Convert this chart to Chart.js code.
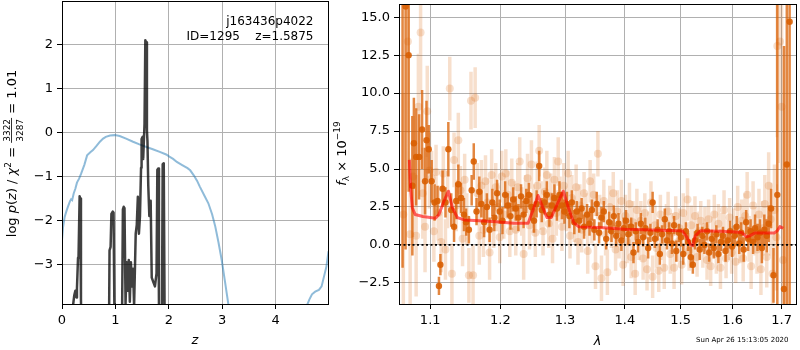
<!DOCTYPE html>
<html><head><meta charset="utf-8">
<script src="https://cdn.jsdelivr.net/npm/chart.js@4.4.0/dist/chart.umd.min.js"></script>
<style>
html,body{margin:0;padding:0;background:#fff;}
#wrap{position:relative;width:800px;height:350px;overflow:hidden;background:#fff;}
#b1{position:absolute;left:0;top:0;width:330px;height:350px;}
#b2{position:absolute;left:330px;top:0;width:470px;height:350px;}
</style></head><body>
<div id="wrap"><div id="b1"><canvas id="c1" width="330" height="350"></canvas></div><div id="b2"><canvas id="c2" width="470" height="350"></canvas></div></div>
<script>
// ---------- left panel: p(z) ----------
const zPrior = [0,0.02,0.05,0.08,0.11,0.15,0.17,0.19,0.22,0.25,0.28,0.32,0.36,0.42,0.47,0.53,0.58,0.65,0.71,0.77,0.82,0.9,0.99,1.08,1.2,1.33,1.45,1.58,1.7,1.83,1.95,2.01,2.08,2.15,2.25,2.35,2.40,2.47,2.53,2.58,2.66,2.74,2.81,2.87,2.93,2.99,3.05,3.12,3.3,3.8,4.3,4.59,4.63,4.68,4.74,4.81,4.86,4.9,4.95,4.99];
const logPrior = [-2.45,-2.15,-1.92,-1.8,-1.69,-1.56,-1.52,-1.54,-1.38,-1.28,-1.14,-1.05,-0.93,-0.73,-0.52,-0.45,-0.40,-0.3,-0.21,-0.14,-0.10,-0.07,-0.06,-0.08,-0.14,-0.21,-0.27,-0.33,-0.38,-0.44,-0.5,-0.55,-0.6,-0.67,-0.74,-0.81,-0.86,-0.98,-1.1,-1.23,-1.42,-1.61,-1.86,-2.14,-2.5,-2.9,-3.38,-3.95,-5.2,-8,-6.5,-3.92,-3.8,-3.68,-3.62,-3.58,-3.5,-3.3,-3.05,-2.7];
const zPdf = [0.18,0.21,0.23,0.25,0.27,0.28,0.30,0.31,0.33,0.34,0.355,0.37,0.86,0.89,0.91,0.925,0.95,0.965,0.98,0.99,1.10,1.14,1.155,1.17,1.19,1.21,1.23,1.25,1.27,1.29,1.31,1.33,1.35,1.38,1.40,1.42,1.44,1.46,1.48,1.49,1.51,1.52,1.545,1.56,1.575,1.59,1.60,1.615,1.635,1.66,1.68,1.71,1.74,1.77,1.785,1.80,1.815,1.83,1.87,1.885,1.905,1.92,1.94];
const logPdf = [-5,-3.9,-3.7,-3.6,-3.75,-3.55,-2.85,-2.8,-1.45,-1.5,-3.8,-5,-8,-2.68,-2.6,-1.85,-1.8,-1.82,-3.9,-5,-8,-1.75,-1.69,-1.72,-3.9,-2.95,-3.6,-2.9,-3.85,-2.95,-3.5,-3.1,-3.95,-2.3,-2.1,-1.46,-2.3,-1.9,-0.8,-0.15,-0.1,-0.6,0.2,2.1,2.05,0.05,-0.2,-1.2,-1.9,-1.55,-3.3,-3.4,-3.5,-3.2,-0.85,-0.82,-3.9,-5,-4.5,-0.72,-0.70,-3.9,-8];
const pdfTicksX = [0,1,2,3,4];
const pdfTicksY = [-3,-2,-1,0,1,2];

// ---------- right panel: spectrum ----------
const darkWave = [1.063,1.067,1.071,1.076,1.078,1.081,1.085,1.089,1.093,1.095,1.098,
1.102,1.106,1.110,1.112,1.114,1.117,1.121,1.125,1.129,1.133,1.136,1.139,1.143,1.147,1.150,1.154,1.158,1.161,1.165,1.169,1.172,1.176,1.180,1.184,1.188,1.191,1.195,1.199,1.203,1.207,1.211,1.215,1.219,1.223,1.227,1.231,1.235,1.239,1.243,1.247,1.251,1.255,1.259,1.263,1.267,1.271,1.275,1.279,1.283,1.287,1.291,1.295,1.299,
1.303,1.307,1.311,1.315,1.319,1.323,1.327,1.331,1.336,1.340,1.344,1.348,1.352,1.356,1.360,1.364,1.368,1.373,1.377,1.381,1.385,1.389,1.394,1.398,
1.402,1.406,1.411,1.415,1.419,1.423,1.428,1.432,1.436,1.441,1.445,1.449,1.453,1.458,1.462,1.466,1.471,1.475,1.479,1.484,1.488,1.492,1.497,
1.501,1.505,1.510,1.514,1.519,1.523,1.527,1.532,1.536,1.541,1.545,1.550,1.554,1.559,1.563,1.568,1.572,1.577,1.581,1.586,1.590,1.595,1.599,
1.604,1.608,1.613,1.617,1.622,1.627,1.631,1.636,1.641,1.645,1.650,1.655,1.659,1.664,1.669,1.673,1.678,1.683,1.691,1.705,1.711,1.717];
const darkFlux = [16.5,15.7,12.5,3.9,6.7,5.8,5.8,7.6,4.2,6.9,6.3,
4.2,2.8,2.9,-2.7,-1.3,3.7,2.8,6.3,2.3,1.2,2.9,4.0,3.1,2.0,1.5,1.0,3.6,5.5,2.2,3.5,2.7,1.5,2.5,1.0,2.8,1.8,3.4,2.2,1.6,3.3,2.6,1.9,3.0,2.4,1.8,3.2,2.0,2.9,3.3,2.5,1.6,2.7,5.2,2.3,2.8,3.3,2.0,2.6,3.1,2.4,3.3,2.6,2.2,
2.7,1.9,2.8,1.5,2.2,1.6,2.4,1.2,2.0,1.4,2.3,1.0,2.7,0.8,1.8,2.2,0.4,1.5,0.9,1.9,0.6,1.4,0.3,1.1,
1.6,0.7,1.2,-0.5,0.9,0.2,1.4,0.5,1.1,-0.2,0.8,2.8,0.4,1.0,-0.6,0.7,1.7,0.3,0.9,0.1,1.3,-0.4,0.8,
0.5,-0.6,0.9,0.2,-0.8,-1.3,0.3,0.8,-0.3,0.6,0.0,0.9,-0.5,0.4,-0.2,0.7,-0.6,0.2,0.6,-0.4,0.3,0.9,-0.1,
0.6,1.2,0.1,0.8,-0.3,1.5,0.4,0.9,0.2,1.1,0.5,0.8,-0.2,1.0,0.6,1.4,2.4,-2.0,3.3,-2.9,5.3,14.7];
const darkErr = [18,16,9,4.6,3.0,3.2,2.8,2.6,2.2,2.6,1.6,
1.4,1.2,1.0,0.6,0.7,1.2,1.0,1.8,1.1,1.0,1.2,1.3,1.0,1.1,0.9,0.9,1.0,1.2,0.9,1.0,0.9,1.0,0.9,0.8,0.9,0.9,0.9,0.8,0.9,0.9,0.8,0.9,0.8,0.8,0.9,0.8,0.9,0.8,0.8,0.9,0.8,0.9,1.0,0.8,0.8,0.9,0.8,0.8,0.9,0.8,0.9,0.9,0.8,
0.8,0.8,0.8,0.8,0.7,0.8,0.7,0.8,0.7,0.8,0.7,0.7,0.8,0.7,0.7,0.7,0.7,0.7,0.7,0.7,0.7,0.7,0.7,0.7,
0.7,0.7,0.6,0.7,0.6,0.7,0.7,0.6,0.7,0.7,0.6,0.7,0.6,0.7,0.7,0.6,0.7,0.6,0.6,0.7,0.6,0.7,0.6,
0.6,0.7,0.6,0.6,0.7,0.6,0.6,0.6,0.7,0.6,0.6,0.6,0.6,0.6,0.7,0.6,0.6,0.6,0.6,0.7,0.6,0.7,0.7,
0.7,0.7,0.7,0.7,0.8,0.8,0.8,0.8,0.8,0.9,0.9,0.9,1.0,1.0,1.1,1.2,1.3,1.8,15,16,20,20];

const lightWave = [1.064,1.070,1.073,1.077,1.081,1.084,1.087,1.090,1.093,1.096,1.099,
1.102,1.105,1.108,1.111,1.115,1.118,1.121,1.124,1.127,1.130,1.133,1.136,1.139,1.142,1.145,1.148,1.151,1.154,1.157,1.160,1.163,1.166,1.169,1.172,1.175,1.178,1.181,1.184,1.187,1.190,1.193,1.196,1.199,1.202,1.205,1.208,1.211,1.214,1.217,1.220,1.223,1.226,1.229,1.232,1.235,1.238,1.241,1.244,1.247,1.250,1.253,1.256,1.259,1.262,1.265,1.268,1.271,1.274,1.277,1.280,1.283,1.286,1.289,1.292,1.295,1.298,
1.302,1.305,1.308,1.311,1.315,1.318,1.321,1.324,1.327,1.331,1.334,1.337,1.341,1.344,1.347,1.350,1.354,1.357,1.360,1.364,1.367,1.370,1.374,1.377,1.380,1.384,1.387,1.390,1.394,1.397,
1.401,1.404,1.408,1.411,1.414,1.418,1.421,1.425,1.428,1.432,1.435,1.439,1.442,1.446,1.449,1.453,1.456,1.460,1.463,1.467,1.470,1.474,1.477,1.481,1.484,1.488,1.491,1.495,1.498,
1.502,1.505,1.509,1.513,1.516,1.520,1.524,1.527,1.531,1.535,1.538,1.542,1.546,1.550,1.553,1.557,1.561,1.564,1.568,1.572,1.576,1.579,1.583,1.587,1.591,1.594,1.598,
1.602,1.606,1.610,1.614,1.618,1.621,1.625,1.629,1.633,1.637,1.641,1.645,1.649,1.653,1.657,1.661,1.665,1.669,1.673,1.677,1.681,1.685,1.689,1.691,1.6965,1.700,1.703];
const lightFlux = [2.0,13.4,0.7,4.5,0.6,9.1,14.0,3.4,1.2,8.8,4.9,
4.4,0.9,4.8,2.1,0.2,4.7,-0.3,3.0,10.3,-1.9,5.6,2.6,6.9,3.6,0.4,4.3,1.7,-2.0,9.5,-2.0,9.7,3.4,0.6,3.9,1.0,4.2,2.8,-0.5,4.6,1.5,3.8,2.5,0.5,4.5,2.0,4.7,3.3,0.9,4.1,2.6,1.0,3.8,5.5,2.2,-0.6,3.0,4.4,1.3,5.3,2.4,0.8,3.9,6.2,2.6,0.9,3.5,4.6,1.4,3.2,0.4,4.3,2.1,5.5,3.0,1.2,3.9,
2.4,4.7,0.6,3.1,1.7,3.8,0.2,2.6,1.0,3.4,2.0,-0.4,4.2,1.5,3.3,-1.4,6.0,1.9,-2.2,2.9,0.7,-1.8,2.5,1.2,3.4,-0.3,2.2,0.5,2.9,-1.3,
1.9,0.2,2.7,-0.8,1.5,-1.9,2.3,0.4,1.6,-0.9,2.1,-1.6,0.9,2.8,-2.1,1.3,-0.2,-1.7,2.0,0.3,-1.5,1.4,2.2,-0.6,0.8,-1.5,1.9,0.2,1.1,
-1.3,2.1,0.6,3.0,-0.4,1.3,0.1,1.9,-0.8,0.9,1.6,-0.2,1.2,-1.0,1.7,-1.4,0.5,2.0,-0.6,1.4,-1.5,0.8,2.3,-0.9,0.3,1.8,-0.5,
1.0,-1.1,2.5,0.2,1.6,-0.9,1.9,3.3,0.4,-1.4,2.6,0.9,-0.3,2.0,-1.6,1.1,2.7,-0.8,3.9,1.7,-1.9,2.3,0.5,13.1,13.4,9.1,-1.0];
const lightErr = [8,6,5,4,4,3.5,4,3,3,3,2.5,
1.8,2.0,1.8,1.8,2.0,1.8,2.0,1.9,2.1,2.0,1.8,1.7,1.8,1.6,1.8,1.7,1.7,1.8,1.9,2.0,2.0,2.0,1.9,1.7,1.8,1.7,1.6,1.8,1.7,1.7,1.6,1.6,1.7,1.7,1.6,1.6,1.6,1.7,1.6,1.6,1.7,1.6,1.6,1.6,1.7,1.6,1.6,1.6,1.6,1.6,1.6,1.6,1.7,1.6,1.6,1.6,1.6,1.6,1.5,1.6,1.5,1.5,1.6,1.5,1.6,1.5,
1.5,1.5,1.5,1.5,1.5,1.5,1.5,1.4,1.5,1.4,1.4,1.5,1.4,1.4,1.4,1.5,1.5,1.4,1.5,1.4,1.4,1.5,1.4,1.4,1.4,1.4,1.4,1.4,1.4,1.4,
1.4,1.4,1.4,1.4,1.4,1.4,1.4,1.4,1.3,1.4,1.3,1.4,1.3,1.4,1.4,1.3,1.3,1.4,1.3,1.3,1.4,1.3,1.3,1.3,1.3,1.4,1.3,1.3,1.3,
1.3,1.3,1.3,1.4,1.3,1.3,1.3,1.3,1.3,1.3,1.3,1.3,1.3,1.3,1.3,1.3,1.3,1.3,1.3,1.3,1.4,1.3,1.3,1.3,1.3,1.3,1.4,
1.4,1.4,1.4,1.4,1.4,1.5,1.5,1.5,1.5,1.5,1.6,1.6,1.6,1.7,1.7,1.8,1.9,2.0,2.2,2.4,2.6,3.0,3.5,6,8,8,10];

const modelWave = [1.072,1.0735,1.0759,1.0797,1.090,1.1072,1.112,1.1189,1.1252,1.1307,1.1377,1.1473,1.1689,1.1938,1.2194,1.2418,1.2507,1.2572,1.2627,1.2713,1.2778,1.2861,1.2972,1.3055,1.314,1.3225,1.357,1.4,1.4475,1.498,1.504,1.512,1.5185,1.523,1.5275,1.5372,1.5917,1.6176,1.6274,1.6341,1.644,1.6843,1.691,1.6965,1.7034];
const modelFlux = [5.6,3.8,2.45,2.0,1.87,1.76,2.0,2.89,3.54,2.45,1.80,1.65,1.59,1.52,1.43,1.43,2.45,3.26,2.67,1.80,1.80,2.56,3.54,2.45,1.47,1.19,1.15,1.04,0.98,0.93,0.9,0.5,0.02,-0.05,0.6,0.93,0.88,0.82,0.54,0.6,0.78,0.78,0.93,1.21,1.1];

const specTicksX = [1.1,1.2,1.3,1.4,1.5,1.6,1.7];
const specTicksY = [-2.5,0,2.5,5,7.5,10,12.5,15];
const specRange = {xmin:1.0583, xmax:1.7306, ymin:-3.89, ymax:15.87};
const pdfRange = {xmin:0, xmax:4.98, ymin:-3.90, ymax:2.99};

const FAM = "'DejaVu Sans', 'Liberation Sans', sans-serif";
const minus = s => s.replace('-', '\u2212');

function pairs(xs, ys){ return xs.map((x,i)=>({x:x, y:ys[i]})); }
function errSegs(w,f,e){ const out=[]; for(let i=0;i<w.length;i++){ out.push({x:w[i],y:f[i]-e[i]},{x:w[i],y:f[i]+e[i]},{x:w[i],y:null}); } return out; }

const boxPlugin = {id:'box', afterDatasetsDraw(chart){ const {ctx, chartArea:a}=chart; ctx.save(); ctx.strokeStyle='#000'; ctx.lineWidth=1; ctx.strokeRect(a.left+0.5,a.top+0.5,a.right-a.left,a.bottom-a.top); ctx.restore(); }};

function measureParts(ctx, parts){ let w=0; for(const p of parts){ ctx.font=p.font; if(p.num!==undefined){ w+=Math.max(ctx.measureText(p.num).width, ctx.measureText(p.den).width)+2; } else { w+=ctx.measureText(p.t).width; } } return w; }
function drawParts(ctx, parts, x0, y0){ let x=x0; ctx.textBaseline='alphabetic'; ctx.textAlign='left';
  for(const p of parts){ ctx.font=p.font;
    if(p.num!==undefined){ const wn=ctx.measureText(p.num).width, wd=ctx.measureText(p.den).width, w=Math.max(wn,wd)+2;
      ctx.fillText(p.num, x+(w-wn)/2, y0-6.5); ctx.fillText(p.den, x+(w-wd)/2, y0+6.5);
      ctx.fillRect(x, y0-4.8, w, 0.8); x+=w; }
    else { ctx.fillText(p.t, x, y0+(p.dy||0)); x+=ctx.measureText(p.t).width; } } }

function axisCfg(range, ticks, fmt, afterFit, axis){
  return { type: axis==='xlog'?'logarithmic':'linear', min:range[0], max:range[1], offset:false,
    afterBuildTicks: s=>{ s.ticks = ticks.map(v=>({value:v})); },
    afterFit: afterFit,
    grid:{color:'#b0b0b0', lineWidth:1, tickColor:'#000', tickLength:5, drawTicks:true, offset:false},
    border:{display:false},
    ticks:{font:{family:FAM,size:13}, color:'#000', padding:4, maxRotation:0, autoSkip:false, callback: fmt} };
}

// ---------- left chart ----------
const leftText = {id:'leftText', afterDraw(chart){ const ctx=chart.ctx; ctx.save(); ctx.fillStyle='#000';
  ctx.font='12px '+FAM; ctx.textAlign='right'; ctx.textBaseline='alphabetic';
  ctx.fillText('j163436p4022', 313.5, 25); ctx.fillText('ID=1295    z=1.5875', 313.5, 39.5);
  ctx.font='italic 13px '+FAM; ctx.textAlign='center'; ctx.fillText('z', (chart.chartArea.left+chart.chartArea.right)/2, 343.5);
  const N='13px '+FAM, I='italic 13px '+FAM, S='9px '+FAM;
  const parts=[{t:'log ',font:N},{t:'p',font:I},{t:'(',font:N},{t:'z',font:I},{t:') / ',font:N},{t:'\u03c7',font:I},{t:'2',font:S,dy:-5},{t:' = ',font:N},{num:'3322',den:'3287',font:S},{t:' = 1.01',font:N}];
  const W=measureParts(ctx,parts); ctx.translate(16,153.5); ctx.rotate(-Math.PI/2); drawParts(ctx,parts,-W/2,0);
  ctx.restore(); }};

new Chart(document.getElementById('c1'), {
  type:'scatter',
  data:{datasets:[
    {type:'line', data:pairs(zPrior,logPrior), borderColor:'rgba(31,119,180,0.5)', borderWidth:2, pointRadius:0, tension:0, order:2, clip:0},
    {type:'line', data:pairs(zPdf,logPdf), borderColor:'rgba(0,0,0,0.75)', borderWidth:2.5, pointRadius:0, tension:0, order:1, clip:0, borderJoinStyle:'round'}
  ]},
  options:{responsive:false, animation:false, events:[], layout:{padding:{left:0,top:1,right:2,bottom:0}},
    plugins:{legend:{display:false}, tooltip:{enabled:false}},
    scales:{
      x: axisCfg([pdfRange.xmin,pdfRange.xmax], pdfTicksX, v=>minus(String(v)), s=>{s.height=46; s.paddingLeft=0; s.paddingRight=0;}),
      y: axisCfg([pdfRange.ymin,pdfRange.ymax], pdfTicksY, v=>minus(String(v)), s=>{s.width=62; s.paddingTop=0; s.paddingBottom=0;})
    }},
  plugins:[boxPlugin, leftText]
});

// ---------- right chart ----------
const rightText = {id:'rightText', afterDraw(chart){ const ctx=chart.ctx; ctx.save(); ctx.fillStyle='#000';
  ctx.font='italic 13px '+FAM; ctx.textAlign='center'; ctx.textBaseline='alphabetic';
  ctx.fillText('\u03bb', (chart.chartArea.left+chart.chartArea.right)/2, 344.5);
  ctx.font='7px '+FAM; ctx.textAlign='left'; ctx.fillText('Sun Apr 26 15:13:05 2020', 366, 342);
  const N='13px '+FAM, I='italic 13px '+FAM, S='9px '+FAM;
  const parts=[{t:'f',font:I},{t:'\u03bb',font:S,dy:3},{t:' \u00d7 10',font:N},{t:'\u221219',font:S,dy:-6}];
  const W=measureParts(ctx,parts); ctx.translate(16,153.5); ctx.rotate(-Math.PI/2); drawParts(ctx,parts,-W/2,0);
  ctx.restore(); }};

const ORG='217,95,2';
new Chart(document.getElementById('c2'), {
  type:'scatter',
  data:{datasets:[
    {type:'line', data:errSegs(lightWave,lightFlux,lightErr), borderColor:'rgba('+ORG+',0.2)', borderWidth:3.5, borderCapStyle:'butt', pointRadius:0, spanGaps:false, tension:0, order:7, clip:0},
    {type:'scatter', data:pairs(lightWave,lightFlux), backgroundColor:'rgba('+ORG+',0.2)', borderWidth:0, pointRadius:4, order:6, clip:0},
    {type:'line', data:errSegs(darkWave,darkFlux,darkErr), borderColor:'rgba('+ORG+',0.75)', borderWidth:2.5, borderCapStyle:'butt', pointRadius:0, spanGaps:false, tension:0, order:5, clip:0},
    {type:'scatter', data:pairs(darkWave,darkFlux), backgroundColor:'rgba('+ORG+',0.9)', borderWidth:0, pointRadius:3.2, order:4, clip:0},
    {type:'line', data:[{x:specRange.xmin,y:0},{x:specRange.xmax,y:0}], borderColor:'#000', borderWidth:1.8, borderDash:[2,2.5], pointRadius:0, order:2, clip:0},
    {type:'line', data:pairs(modelWave,modelFlux), borderColor:'rgba(255,0,0,0.6)', borderWidth:3, pointRadius:0, tension:0, order:1, clip:0, borderJoinStyle:'round'}
  ]},
  options:{responsive:false, animation:false, events:[], layout:{padding:{left:0,top:1,right:1,bottom:0}},
    plugins:{legend:{display:false}, tooltip:{enabled:false}},
    scales:{
      x: axisCfg([specRange.xmin,specRange.xmax], specTicksX, v=>Number(v).toFixed(1), s=>{s.height=46; s.paddingLeft=0; s.paddingRight=0;}, 'xlog'),
      y: axisCfg([specRange.ymin,specRange.ymax], specTicksY, v=>minus(Number(v).toFixed(1)), s=>{s.width=69; s.paddingTop=0; s.paddingBottom=0;})
    }},
  plugins:[boxPlugin, rightText]
});
</script>
</body></html>
